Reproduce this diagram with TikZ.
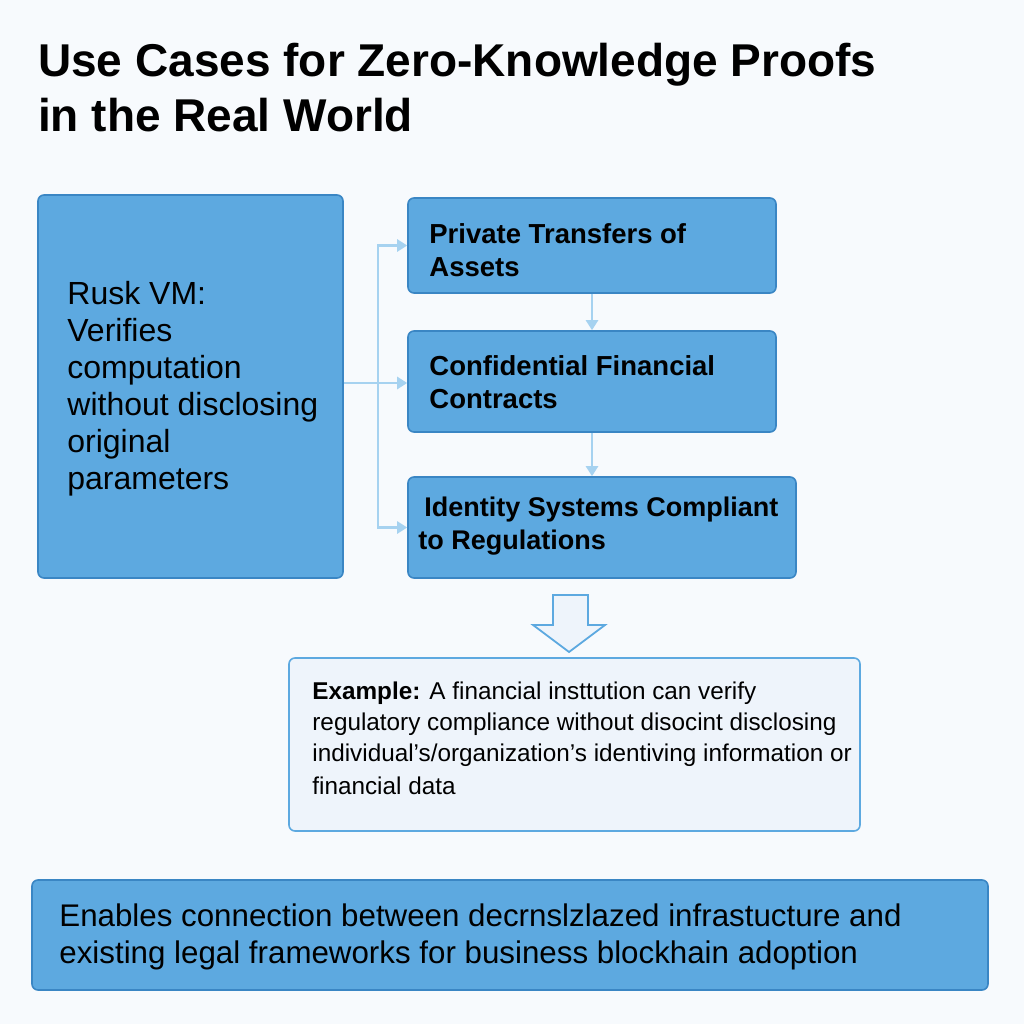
\documentclass[tikz,border=0pt]{standalone}
\usepackage{fontspec}
\setmainfont{Liberation Sans}
\usetikzlibrary{arrows.meta,positioning}

\definecolor{boxblue}{HTML}{5DA9E0}
\definecolor{boxedge}{HTML}{3A86C4}
\definecolor{linkblue}{HTML}{A6D2F0}
\definecolor{paleblue}{HTML}{EEF4FB}
\definecolor{bgwhite}{HTML}{F7FAFD}

\tikzset{
  bluebox/.style={draw=boxedge, fill=boxblue, line width=1.6pt, rounded corners=6pt, inner sep=0pt},
  palebox/.style={draw=boxblue, fill=paleblue, line width=1.6pt, rounded corners=6pt, inner sep=0pt},
  boxtext/.style={anchor=west, align=left, inner sep=0pt, text=black},
  link/.style={draw=linkblue, line width=2.4pt, -{Triangle[length=10pt,width=12pt]}},
}

\begin{document}
\begin{tikzpicture}[x=1pt,y=-1pt]

      \useasboundingbox (0,0) rectangle (1024,1024);
      \fill[bgwhite] (0,0) rectangle (1024,1024);

      %%% title %%%
      \node (title) at (38,88) [anchor=west, align=left, inner sep=0pt,
        font={\fontsize{46}{55}\selectfont\bfseries}] {Use Cases for Zero-Knowledge Proofs\\in the Real World};

      %%% boxes %%%
      \node (rusk) at (190.5,386.5) [bluebox, minimum width=305pt, minimum height=383pt] {};
      \node (priv) at (592,245.5) [bluebox, minimum width=368pt, minimum height=95pt] {};
      \node (conf) at (592,381.5) [bluebox, minimum width=368pt, minimum height=101pt] {};
      \node (ident) at (602,527.5) [bluebox, minimum width=388pt, minimum height=101pt] {};
      \node (exmp) at (574.5,744.5) [palebox, minimum width=571pt, minimum height=173pt] {};
      \node (enab) at (510,935) [bluebox, minimum width=956pt, minimum height=110pt] {};

      %%% texts %%%
      \node (ruskT) [boxtext, right=30pt of rusk.west, yshift=-2pt,
        font={\fontsize{32}{37}\selectfont}]
        {Rusk VM:\\Verifies\\computation\\without disclosing\\original\\parameters};
      \node (privT) [boxtext, right=22pt of priv.west, yshift=-5pt,
        font={\fontsize{27.5}{33}\selectfont\bfseries}] {Private Transfers of\\Assets};
      \node (confT) [boxtext, right=22pt of conf.west, yshift=-1pt,
        font={\fontsize{27.5}{33}\selectfont\bfseries}] {Confidential Financial\\Contracts};
      \node (identT) [boxtext, right=11pt of ident.west, yshift=1pt,
        font={\fontsize{27}{33}\selectfont\bfseries}] {\hspace*{6pt}Identity Systems Compliant\\to Regulations};
      \node (exmpT) [boxtext, right=24pt of exmp.west, yshift=6pt,
        font={\fontsize{24.3}{31}\selectfont}]
        {\textbf{Example:} A financial insttution can verify\\
         regulatory compliance without disocint disclosing\\
         individual's/organization's identiving information or\\[2pt]
         financial data};
      \node (enabT) [boxtext, right=28pt of enab.west, yshift=-1.5pt,
        font={\fontsize{31.3}{37}\selectfont}]
        {Enables connection between decrnslzlazed infrastucture and\\
         existing legal frameworks for business blockhain adoption};

      %%% connectors %%%
      \coordinate (split) at (378,383);
      \draw[link] (rusk.east |- split) to (conf.west |- split);
      \draw[link] (split) |- (priv.west);
      \draw[link] (split) |- (ident.west);
      \draw[link] (priv.south) to (conf.north);
      \draw[link] (conf.south) to (conf.south |- ident.north);

      %%% hollow down arrow %%%
      \draw[fill=paleblue, draw=boxblue, line width=1.8pt, line join=miter]
      (553,595) -- (588,595) -- (588,625) -- (605,625) -- (569,652)
      -- (533,625) -- (553,625) -- cycle;

    \end{tikzpicture}
\end{document}
